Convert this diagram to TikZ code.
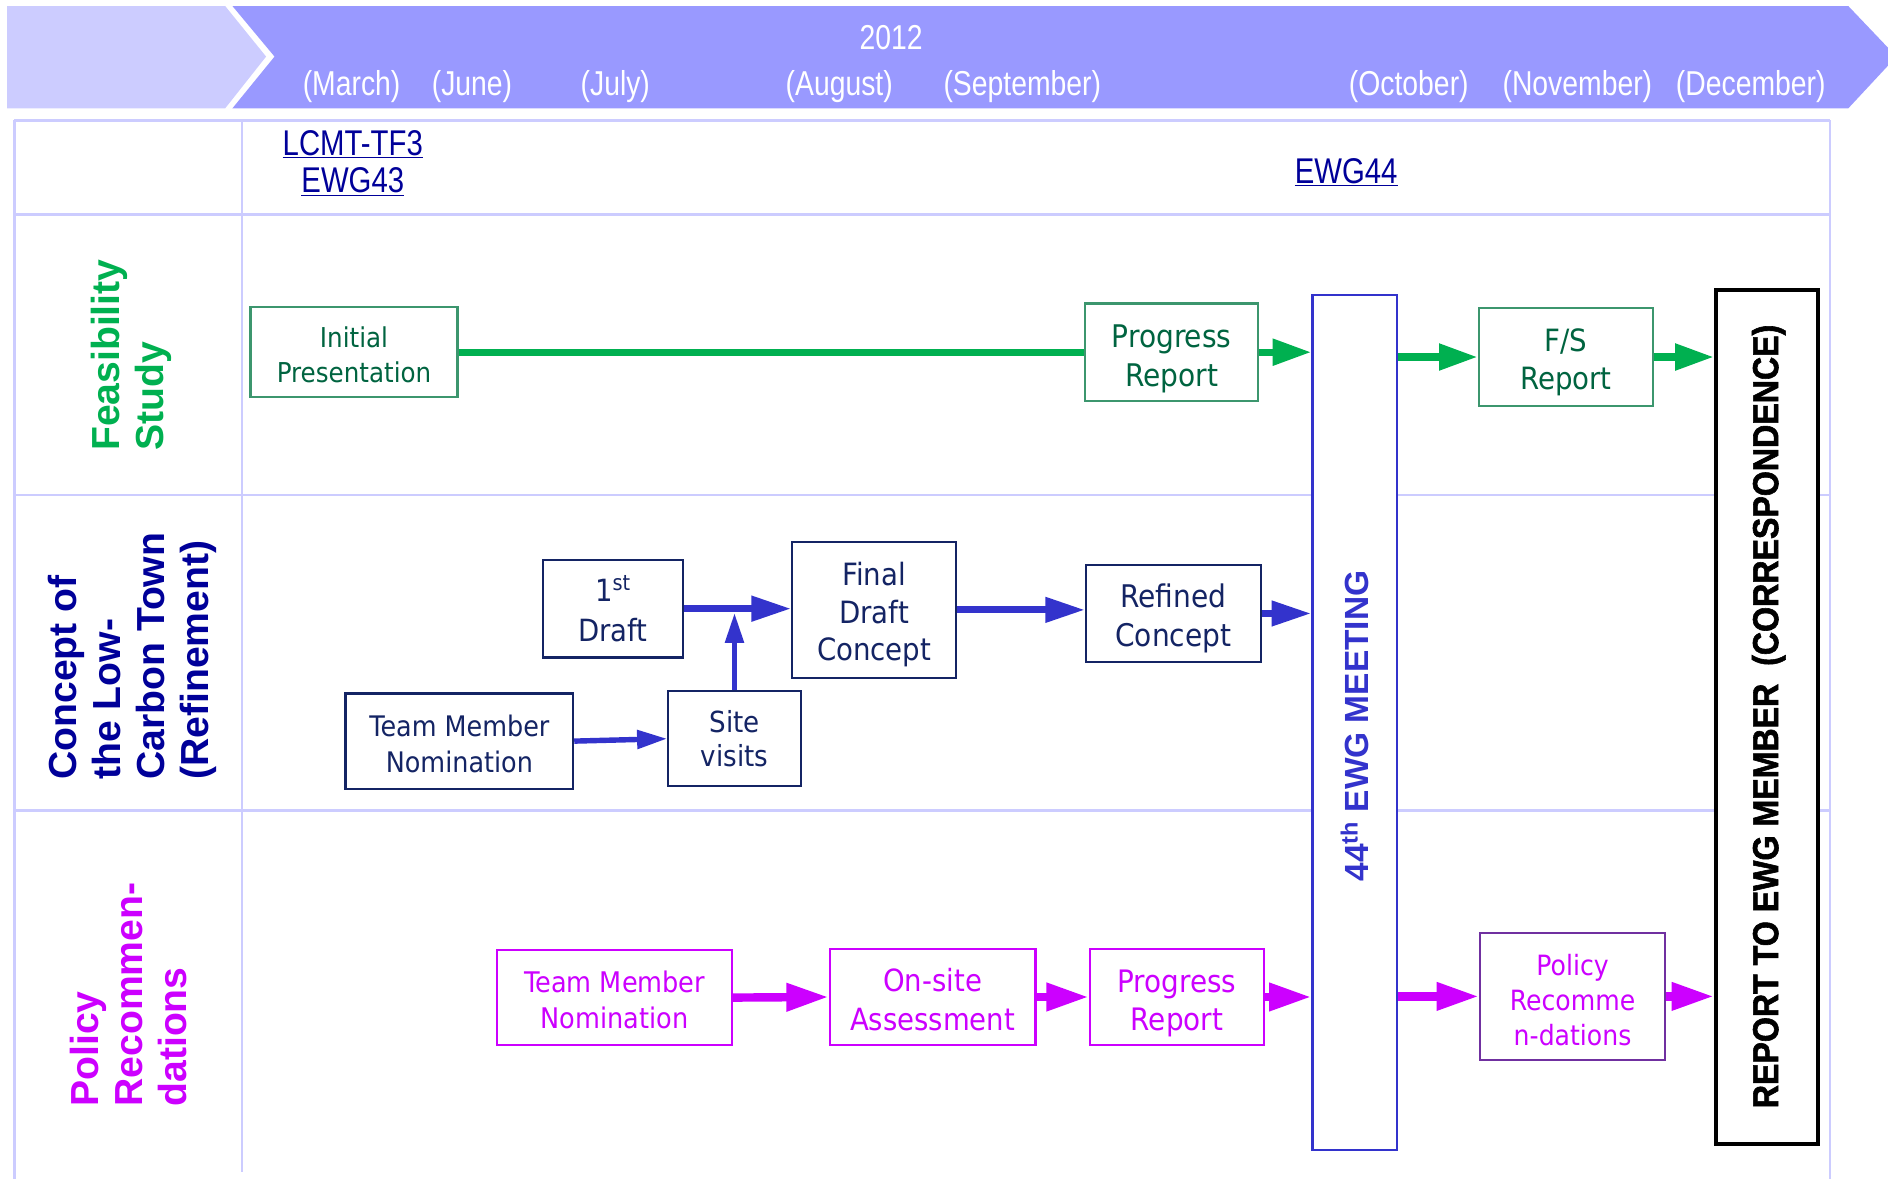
\documentclass[tikz,border=0pt]{standalone}
\usepackage{fontspec}
\setmainfont{Liberation Sans}
\newfontfamily\narrowf[FakeStretch=0.82]{Liberation Sans}
\newfontfamily\tahomaf[FakeStretch=0.9]{DejaVu Sans}
\newfontfamily\heavyf[FakeStretch=0.89,FakeBold=1.6]{Liberation Sans}
\usetikzlibrary{arrows.meta}
\definecolor{hlight}{RGB}{204,204,255}
\definecolor{hdark}{RGB}{153,153,255}
\definecolor{gridc}{RGB}{204,204,255}
\definecolor{fsgreen}{RGB}{0,176,80}
\definecolor{gtext}{RGB}{0,100,64}
\definecolor{gborder}{RGB}{60,150,110}
\definecolor{navyt}{RGB}{0,0,153}
\definecolor{nbox}{RGB}{20,36,100}
\definecolor{barrow}{RGB}{51,51,204}
\definecolor{magc}{RGB}{204,0,255}
\definecolor{purpb}{RGB}{112,48,160}
\newcommand{\setfs}[2]{\fontsize{#1}{#2}\selectfont}
\newcommand{\tup}[1]{\rule{0pt}{#1pt}}
\begin{document}
\begin{tikzpicture}[x=1pt,y=-1pt,
  grid/.style={draw=gridc,line width=2pt},
  month/.style={text=white,font=\narrowf\setfs{28.7}{32},inner sep=0pt},
  toplabel/.style={text=navyt,font=\narrowf\setfs{29.7}{33},inner sep=0pt},
  lanelabel/.style={rotate=90,align=left,inner sep=0pt,font=\bfseries\setfs{32.5}{36.5}},
  gbox/.style={draw=gborder,line width=1.8pt,fill=white,text=gtext,align=center,inner sep=0pt},
  nbx/.style={draw=nbox,line width=1.8pt,fill=white,text=nbox,align=center,inner sep=0pt},
  mbox/.style={draw=magc,line width=1.8pt,fill=white,text=magc,align=center,inner sep=0pt},
  garrow/.style={draw=fsgreen,line width=6pt},
  gtip/.style={-{Triangle[length=32pt,width=21pt]}},
  barr/.style={draw=barrow,line width=6pt,-{Triangle[length=33pt,width=20pt]}},
  bthin/.style={draw=barrow,line width=4.5pt,-{Triangle[length=25pt,width=15pt]}},
  marr/.style={draw=magc,line width=7pt,-{Triangle[length=35pt,width=22pt]}}
]
\clip (0,0) rectangle (1568,979);
\useasboundingbox (0,0) rectangle (1568,979);
% header band
\fill[hlight] (6,5) -- (187,5) -- (221,47) -- (187,90) -- (6,90) -- cycle;
\fill[hdark] (193,5) -- (1535,5) -- (1575,47) -- (1535,90) -- (193,90) -- (228,47) -- cycle;
\node[month] (yr) at (740,31) {2012};
\node[month] (m1) at (292,72) {(March)};
\node[month] (m2) at (392,72) {(June)};
\node[month] (m3) at (511,72) {(July)};
\node[month] (m4) at (697,72) {(August)};
\node[month] (m5) at (849,72) {(September)};
\node[month] (m6) at (1170,72) {(October)};
\node[month] (m7) at (1310,72) {(November)};
\node[month] (m8) at (1454,72) {(December)};
% grid
\draw[grid] (12,100) -- (1520,100);
\draw[grid] (12,178) -- (1520,178);
\draw[grid] (12,411) -- (1520,411);
\draw[grid] (12,673) -- (1520,673);
\draw[grid] (12,100) -- (12,979);
\draw[grid] (201,100) -- (201,973);
\draw[grid] (1520,100) -- (1520,979);
% top labels
\node[toplabel] (lcmt) at (293,120) {\underline{LCMT-TF3}};
\node[toplabel] (ewg43) at (293,151) {\underline{EWG43}};
\node[toplabel] (ewg44) at (1118,143) {\underline{EWG44}};
% lane labels
\node[lanelabel,text=fsgreen] (lane1) at (109.5,295) {Feasibility\\Study};
\node[lanelabel,text=navyt] (lane2) at (110,545) {Concept of\\the Low-\\Carbon Town\\(Refinement)};
\node[lanelabel,text=magc] (lane3) at (107,826) {Policy\\Recommen-\\dations};
% meeting and report boxes
\node[draw=barrow,line width=2pt,fill=white,minimum width=70pt,minimum height=710pt,inner sep=0pt] (meet) at (1125,600) {};
\node[rotate=90,text=barrow,font=\bfseries\setfs{27.8}{30}] (meett) at (1125,603) {44\textsuperscript{th} EWG MEETING};
\node[draw=black,line width=3.5pt,fill=white,minimum width=85pt,minimum height=709pt,inner sep=0pt] (rep) at (1467.5,595.5) {};
\node[rotate=90,text=black,font=\heavyf\bfseries\setfs{30}{32}] (rept) at (1469,595) {REPORT TO EWG MEMBER\ \ (CORRESPONDENCE)};
% lane 1
\node[gbox,minimum width=172pt,minimum height=75pt,font=\tahomaf\setfs{22.7}{29}] (init) at (294,292.5) {\tup{21.3}Initial\\Presentation};
\node[gbox,minimum width=144pt,minimum height=81pt,font=\tahomaf\setfs{25.9}{32}] (prog) at (973,292.5) {\tup{29.7}Progress\\Report};
\node[gbox,minimum width=145pt,minimum height=81pt,font=\tahomaf\setfs{25.5}{32}] (fs) at (1300.5,296.5) {\tup{27.4}F/S\\Report};
% lane 2
\node[nbx,minimum width=116pt,minimum height=81pt,font=\tahomaf\setfs{25.4}{33}] (d1) at (509,505.5) {1\textsuperscript{st}\\Draft};
\node[nbx,minimum width=136pt,minimum height=113pt,font=\tahomaf\setfs{25.5}{31}] (fd) at (726,506.5) {\tup{27.4}Final\\Draft\\Concept};
\node[nbx,minimum width=145pt,minimum height=81pt,font=\tahomaf\setfs{25.9}{32}] (ref) at (974.5,509.5) {\tup{27.7}Refined\\Concept};
\node[nbx,minimum width=189pt,minimum height=79pt,font=\tahomaf\setfs{23.5}{30}] (tmb) at (381.5,615.5) {\tup{21.9}Team Member\\Nomination};
\node[nbx,minimum width=110pt,minimum height=79pt,font=\tahomaf\setfs{24.1}{28}] (site) at (610,613.5) {Site\\visits};
\coordinate (sj) at (610,509);
% lane 3
\node[mbox,minimum width=195pt,minimum height=79pt,font=\tahomaf\setfs{23.6}{30}] (tmm) at (510.5,828.5) {\tup{21.9}Team Member\\Nomination};
\node[mbox,minimum width=171pt,minimum height=80pt,font=\tahomaf\setfs{25.4}{32}] (ons) at (774.5,828) {\tup{23.3}On-site\\Assessment};
\node[mbox,minimum width=145pt,minimum height=80pt,font=\tahomaf\setfs{25.7}{32}] (pgm) at (977.5,828) {\tup{29.5}Progress\\Report};
\node[mbox,draw=purpb,minimum width=154pt,minimum height=105pt,font=\tahomaf\setfs{23.2}{29}] (pol) at (1306,827.5) {\tup{23.6}Policy\\Recomme\\n-dations};
% green connectors
\draw[garrow] (init.east) -- (prog.west);
\draw[garrow,gtip] (prog.east) -- (prog.east -| meet.west);
\draw[garrow,gtip] (meet.east |- fs.west) -- (fs.west);
\draw[garrow,gtip] (fs.east) -- (fs.east -| rep.west);
% blue connectors
\draw[barr] (d1.east) -- (fd.west |- d1.east);
\draw[bthin] (site.north) -- (sj);
\draw[bthin] (tmb.east) -- (site.west);
\draw[barr] (fd.east) -- (ref.west |- fd.east);
\draw[barr] (ref.east) -- (ref.east -| meet.west);
% magenta connectors
\draw[marr] (tmm.east) -- (ons.west);
\draw[marr] (ons.east) -- (pgm.west);
\draw[marr] (pgm.east) -- (pgm.east -| meet.west);
\draw[marr] (meet.east |- pol.west) -- (pol.west);
\draw[marr] (pol.east) -- (pol.east -| rep.west);
\end{tikzpicture}
\end{document}
